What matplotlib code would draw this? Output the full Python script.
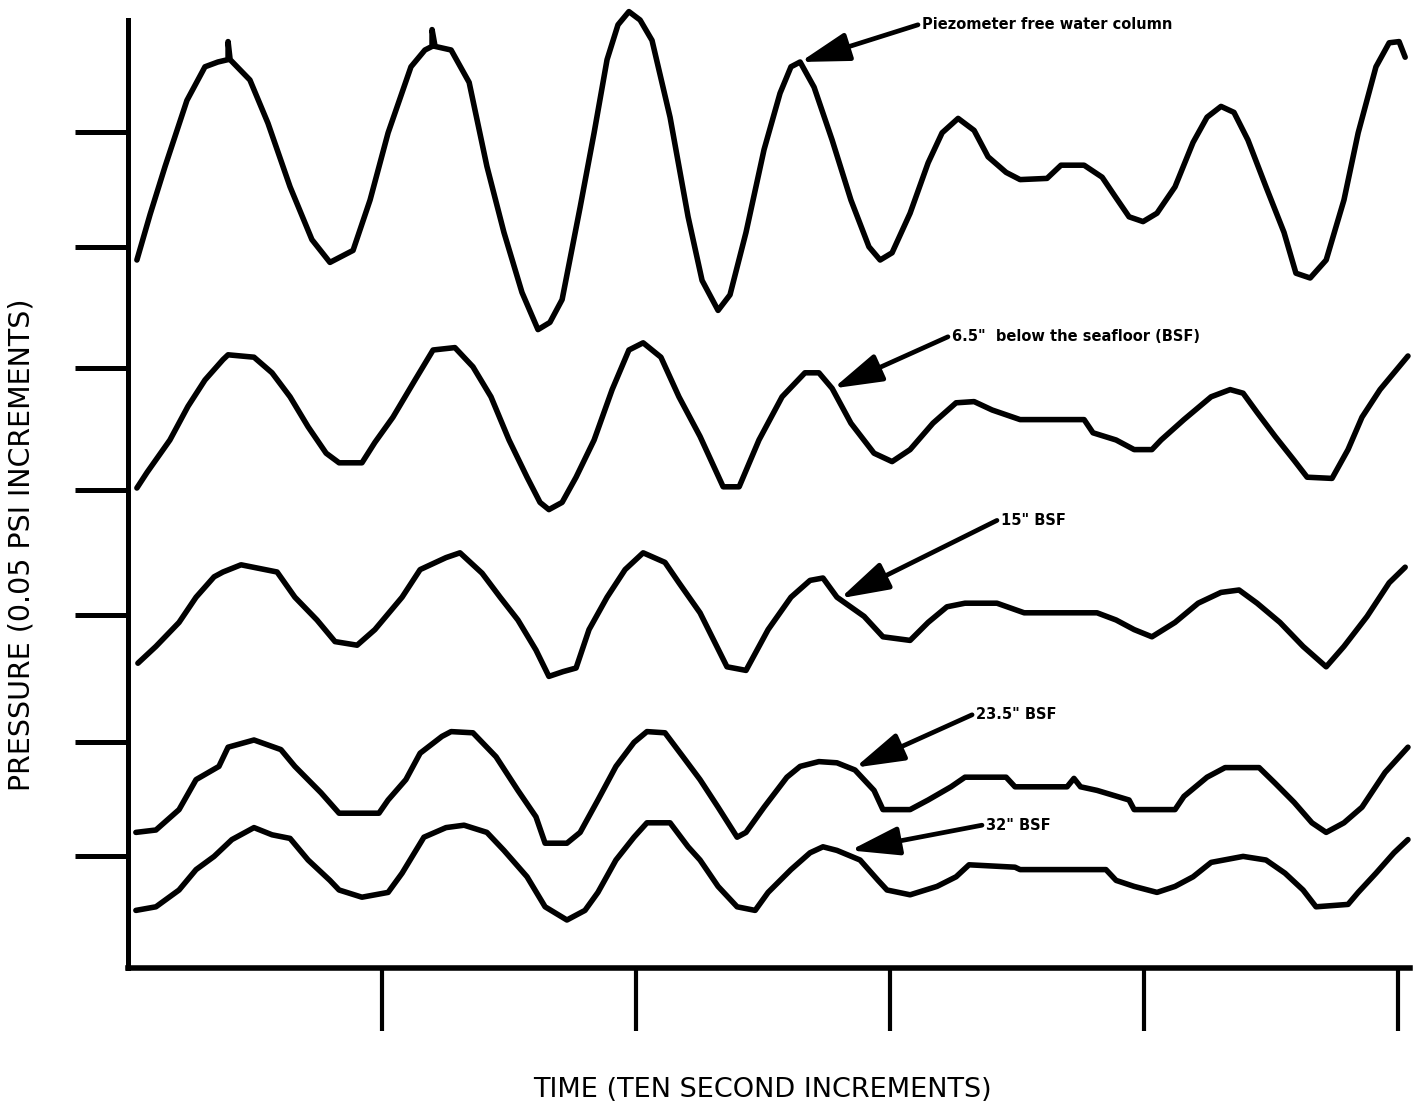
import matplotlib
matplotlib.use("Agg")
import matplotlib.pyplot as plt

# time in seconds, pressure in 0.05 psi increments (traces are stacked with offsets)
t_free = [0.35, 0.87, 1.46, 2.32, 3.03, 3.54, 3.94, 3.94, 4.02, 4.8, 5.51, 6.38, 7.24, 7.95, 8.86, 9.53,
          10.24, 11.14, 11.69, 11.97, 11.97, 12.09, 12.72, 13.43, 14.13, 14.8, 15.51, 16.14, 16.61, 17.09,
          17.8, 18.35, 18.86, 19.29, 19.72, 20.16, 20.63, 21.34, 22.05, 22.6, 23.23, 23.7, 24.33, 25.04,
          25.67, 26.1, 26.46, 27.01, 27.72, 28.46, 29.17, 29.61, 30.08, 30.79, 31.5, 32.05, 32.68, 33.31,
          33.86, 34.57, 35.12, 36.18, 36.73, 37.64, 38.35, 38.86, 39.41, 39.96, 40.51, 41.22, 41.93, 42.48,
          43.03, 43.54, 44.09, 44.8, 45.51, 45.98, 46.54, 47.17, 47.87, 48.43, 49.13, 49.65, 50.04, 50.28]
p_free = [5.9, 6.28, 6.68, 7.23, 7.51, 7.55, 7.57, 7.72, 7.57, 7.4, 7.04, 6.51, 6.07, 5.88, 5.98, 6.4,
          6.96, 7.51, 7.65, 7.68, 7.82, 7.68, 7.65, 7.38, 6.68, 6.13, 5.63, 5.32, 5.38, 5.57,
          6.34, 6.96, 7.57, 7.86, 7.97, 7.9, 7.73, 7.09, 6.26, 5.73, 5.48, 5.61, 6.13, 6.82,
          7.29, 7.51, 7.55, 7.34, 6.9, 6.4, 6.01, 5.9, 5.96, 6.29, 6.71, 6.96, 7.08, 6.98,
          6.76, 6.63, 6.57, 6.58, 6.69, 6.69, 6.59, 6.43, 6.26, 6.22, 6.29, 6.51, 6.88, 7.09,
          7.18, 7.13, 6.9, 6.51, 6.13, 5.79, 5.75, 5.9, 6.4, 6.96, 7.51, 7.71, 7.72, 7.59]

t_65 = [0.35, 0.75, 1.65, 2.36, 3.03, 3.74, 3.94, 4.96, 5.67, 6.38, 7.09, 7.8, 8.31, 9.21, 9.72, 10.43,
        11.3, 12.01, 12.87, 13.58, 14.29, 15.0, 15.71, 16.22, 16.57, 17.09, 17.64, 18.35, 19.06, 19.72,
        20.28, 20.98, 21.69, 22.52, 23.43, 24.06, 24.84, 25.75, 26.65, 27.2, 27.72, 28.46, 29.37, 30.08,
        30.79, 31.69, 32.6, 33.31, 34.02, 35.12, 37.64, 37.99, 38.9, 39.61, 40.31, 40.67, 41.57, 42.64,
        43.39, 43.9, 44.45, 45.16, 45.91, 46.42, 47.4, 48.03, 48.58, 49.29, 50.39]
p_65 = [4.0, 4.13, 4.4, 4.68, 4.9, 5.07, 5.11, 5.09, 4.96, 4.76, 4.51, 4.29, 4.21, 4.21, 4.38, 4.59,
        4.9, 5.15, 5.17, 5.01, 4.76, 4.4, 4.09, 3.88, 3.82, 3.88, 4.09, 4.4, 4.82, 5.15,
        5.21, 5.09, 4.76, 4.43, 4.01, 4.01, 4.4, 4.76, 4.96, 4.96, 4.83, 4.54, 4.29, 4.22,
        4.32, 4.54, 4.71, 4.72, 4.65, 4.57, 4.57, 4.46, 4.4, 4.32, 4.32, 4.4, 4.57, 4.76,
        4.82, 4.79, 4.63, 4.43, 4.23, 4.09, 4.08, 4.32, 4.59, 4.82, 5.1]

t_15 = [0.39, 1.1, 2.01, 2.68, 3.39, 3.74, 4.45, 5.87, 6.57, 7.44, 8.15, 9.02, 9.72, 10.79, 11.5, 12.52,
        13.07, 13.94, 14.65, 15.35, 16.06, 16.57, 17.13, 17.64, 18.15, 18.86, 19.57, 20.28, 21.14, 21.69,
        22.52, 23.58, 24.33, 25.2, 26.1, 26.85, 27.36, 27.91, 28.98, 29.72, 30.79, 31.5, 32.24, 32.95,
        34.21, 35.28, 38.15, 38.9, 39.61, 40.31, 41.22, 42.13, 43.03, 43.74, 44.45, 45.35, 46.26, 47.17,
        47.87, 48.78, 49.65, 50.28]
p_15 = [2.54, 2.68, 2.88, 3.09, 3.26, 3.3, 3.36, 3.3, 3.09, 2.9, 2.72, 2.69, 2.82, 3.09, 3.32, 3.42,
        3.46, 3.29, 3.09, 2.9, 2.65, 2.43, 2.47, 2.5, 2.82, 3.09, 3.32, 3.46, 3.38, 3.21,
        2.96, 2.51, 2.48, 2.82, 3.09, 3.23, 3.25, 3.09, 2.93, 2.76, 2.73, 2.88, 3.01, 3.04,
        3.04, 2.96, 2.96, 2.9, 2.82, 2.76, 2.88, 3.04, 3.13, 3.15, 3.04, 2.88, 2.68, 2.51,
        2.68, 2.93, 3.21, 3.34]

t_235 = [0.31, 1.1, 2.01, 2.68, 3.58, 3.94, 4.96, 6.02, 6.57, 7.6, 8.31, 9.88, 10.24, 10.94, 11.5, 12.36,
         12.72, 13.58, 14.49, 15.35, 16.06, 16.42, 17.28, 17.8, 18.5, 19.21, 19.92, 20.43, 21.14, 21.85,
         22.52, 23.23, 23.98, 24.33, 25.04, 25.94, 26.46, 27.2, 27.91, 28.62, 29.37, 29.72, 30.79, 31.5,
         32.4, 32.95, 34.57, 34.92, 36.97, 37.24, 37.5, 38.15, 39.41, 39.61, 41.22, 41.57, 42.48, 43.19,
         44.53, 45.16, 45.91, 46.61, 47.17, 47.87, 48.58, 49.49, 50.39]
p_235 = [1.13, 1.15, 1.32, 1.57, 1.68, 1.84, 1.9, 1.82, 1.68, 1.46, 1.29, 1.29, 1.4, 1.57, 1.79, 1.93,
         1.97, 1.96, 1.76, 1.48, 1.26, 1.04, 1.04, 1.13, 1.4, 1.68, 1.88, 1.97, 1.96, 1.76,
         1.57, 1.34, 1.09, 1.13, 1.34, 1.59, 1.68, 1.72, 1.71, 1.65, 1.48, 1.32, 1.32, 1.4,
         1.51, 1.59, 1.59, 1.51, 1.51, 1.58, 1.51, 1.48, 1.4, 1.32, 1.32, 1.43, 1.59, 1.67,
         1.67, 1.54, 1.38, 1.21, 1.13, 1.21, 1.34, 1.63, 1.84]

t_32 = [0.31, 1.1, 2.01, 2.68, 3.39, 4.09, 4.96, 5.67, 6.38, 7.09, 7.95, 8.31, 9.21, 10.24, 10.79, 11.65,
        12.52, 13.23, 14.13, 14.8, 15.71, 16.42, 17.28, 17.99, 18.5, 19.21, 19.92, 20.43, 21.34, 22.05,
        22.52, 23.23, 23.98, 24.69, 25.2, 26.1, 26.85, 27.36, 27.91, 28.82, 29.53, 29.88, 30.79, 31.85,
        32.6, 33.11, 34.92, 35.12, 38.5, 38.9, 39.61, 40.51, 41.22, 41.93, 42.64, 43.9, 44.8, 45.55,
        46.26, 46.77, 48.03, 48.43, 49.13, 49.84, 50.39]
p_32 = [0.48, 0.51, 0.65, 0.82, 0.93, 1.07, 1.17, 1.11, 1.08, 0.9, 0.73, 0.65, 0.59, 0.63, 0.79, 1.09,
        1.17, 1.19, 1.13, 0.98, 0.76, 0.51, 0.4, 0.48, 0.63, 0.9, 1.09, 1.21, 1.21, 1.01,
        0.9, 0.68, 0.51, 0.48, 0.63, 0.82, 0.96, 1.01, 0.98, 0.9, 0.73, 0.65, 0.61, 0.68,
        0.76, 0.86, 0.84, 0.82, 0.82, 0.73, 0.68, 0.63, 0.68, 0.76, 0.88, 0.93, 0.9, 0.79,
        0.65, 0.51, 0.53, 0.63, 0.79, 0.96, 1.07]

x_ticks = [10, 20, 30, 40, 50]
y_ticks = [0.93, 1.88, 2.94, 3.98, 5.0, 6.01, 6.97]

fig = plt.figure(figsize=(14.16, 11.12), dpi=100)
ax = fig.add_axes([128 / 1416, 144 / 1112, 1282 / 1416, 948 / 1112])

for t, p in [(t_free, p_free), (t_65, p_65), (t_15, p_15), (t_235, p_235), (t_32, p_32)]:
    ax.plot(t, p, color="black", lw=4, solid_joinstyle="round", solid_capstyle="round", clip_on=False)

ax.set_xlim(0, 50.47)
ax.set_ylim(0, 7.9)
ax.spines["top"].set_visible(False)
ax.spines["right"].set_visible(False)
ax.spines["left"].set_linewidth(3.6)
ax.spines["bottom"].set_linewidth(4)
ax.set_xticks(x_ticks)
ax.set_yticks(y_ticks)
ax.set_xticklabels([])
ax.set_yticklabels([])
ax.tick_params(axis="x", direction="out", length=45, width=3, color="black")
ax.tick_params(axis="y", direction="out", length=38, width=3.6, color="black")

# curve labels with arrows
arrow = dict(arrowstyle="-|>,head_length=0.75,head_width=0.22", lw=3.4, color="black",
             mutation_scale=40, shrinkA=0, shrinkB=0, capstyle="round")
notes = [
    ("Piezometer free water column", (31.1, 7.86), (26.46, 7.55)),
    ('6.5"  below the seafloor (BSF)', (32.28, 5.26), (27.76, 4.83)),
    ('15" BSF', (34.21, 3.73), (28.03, 3.08)),
    ('23.5" BSF', (33.23, 2.11), (28.62, 1.67)),
    ('32" BSF', (33.62, 1.19), (28.43, 0.98)),
]
for txt, start, tip in notes:
    ax.annotate("", xy=tip, xytext=start, arrowprops=arrow, annotation_clip=False)
    ax.text(start[0] + 0.15, start[1], txt, ha="left", va="center", fontsize=10.5,
            fontweight="bold", family="DejaVu Sans")

fig.text(762 / 1416, 1 - 1090 / 1112, "TIME (TEN SECOND INCREMENTS)", ha="center", va="center",
         fontsize=19.5)
fig.text(22 / 1416, 1 - 545 / 1112, "PRESSURE (0.05 PSI INCREMENTS)", ha="center", va="center",
         rotation=90, fontsize=20.5)

fig.savefig("out.png", dpi=100)
